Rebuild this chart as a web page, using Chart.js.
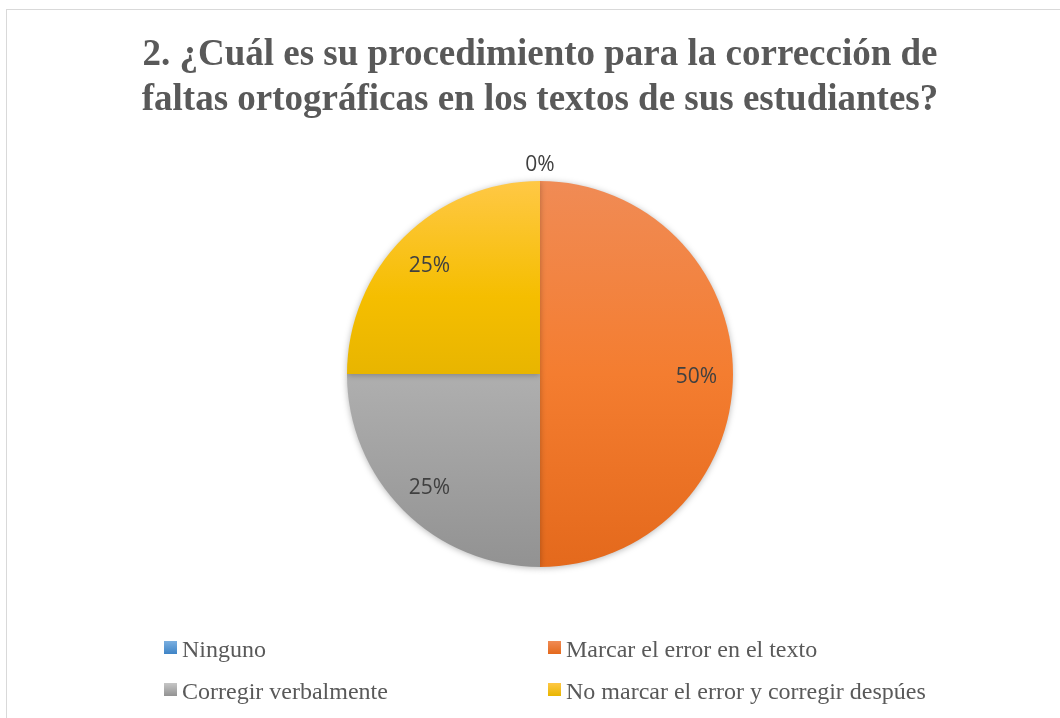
<!DOCTYPE html>
<html>
<head>
<meta charset="utf-8">
<script src="https://cdn.jsdelivr.net/npm/chart.js@4.4.1/dist/chart.umd.min.js"></script>
<style>
  html, body { margin: 0; padding: 0; background: #fff; overflow: hidden; }
  #wrap { position: relative; width: 1060px; height: 718px; }
  #frame { position: absolute; left: 6px; top: 9px; width: 1100px; height: 800px; border: 1.5px solid #d9d9d9; }
  #chart { position: absolute; left: 0; top: 0; }
  .leg { position: absolute; font-family: "Liberation Serif", "Times New Roman", serif; font-size: 24px; color: #595959; white-space: nowrap; line-height: 24px; }
  .leg i { display: inline-block; width: 13px; height: 13px; margin-right: 5px; vertical-align: 3px; }
</style>
</head>
<body>
<div id="wrap">
  <div id="frame"></div>
  <canvas id="chart" width="1060" height="718"></canvas>
  <div id="legend"></div>
</div>
<script>
const titleLines = ["2. ¿Cuál es su procedimiento para la corrección de", "faltas ortográficas en los textos de sus estudiantes?"];
const categories = ["Ninguno", "Marcar el error en el texto", "Corregir verbalmente", "No marcar el error y corregir despúes"];
const percentages = [0, 50, 25, 25];
const legendNames = ["Ninguno", "Marcar el error en el texto", "Corregir verbalmente", "No marcar el error y corregir despúes"];

// top / middle / bottom of each slice colour
const shades = [
  ["#7AAFE0", "#5B9BD5", "#3F84C6"],
  ["#F08B55", "#F47D30", "#E4691C"],
  ["#C6C6C6", "#AFAFAF", "#929292"],
  ["#FFC845", "#F5BE00", "#E8B500"]
];

function sliceColor(ctx) {
  const i = ctx.dataIndex;
  const area = ctx.chart.chartArea;
  if (!area) return shades[i][1];
  const g = ctx.chart.ctx.createLinearGradient(0, area.top, 0, area.bottom);
  g.addColorStop(0, shades[i][0]);
  if (i === 3) {
    g.addColorStop(0.3, shades[i][1]);
    g.addColorStop(0.5, shades[i][2]);
    g.addColorStop(1, shades[i][2]);
  } else {
    g.addColorStop(0.5, shades[i][1]);
    g.addColorStop(1, shades[i][2]);
  }
  return g;
}

// soft shadow behind the pie
const shadowPlugin = {
  id: "pieShadow",
  beforeDatasetsDraw(chart) {
    const c = chart.ctx;
    c.save();
    c.shadowColor = "rgba(0,0,0,0.28)";
    c.shadowBlur = 6;
    c.shadowOffsetY = 1;
  },
  afterDatasetsDraw(chart) {
    chart.ctx.restore();
  }
};

// percent labels on the slices
const labelPlugin = {
  id: "pctLabels",
  afterDatasetsDraw(chart) {
    const c = chart.ctx;
    const meta = chart.getDatasetMeta(0);
    c.save();
    c.font = "21px 'Open Sans'";
    c.fillStyle = "#404040";
    c.textAlign = "center";
    c.textBaseline = "middle";
    meta.data.forEach((arc, i) => {
      const p = arc.getProps(["x", "y", "startAngle", "endAngle", "outerRadius"], true);
      const mid = (p.startAngle + p.endAngle) / 2;
      const dist = percentages[i] === 0 ? p.outerRadius + 19 : p.outerRadius * 0.81;
      c.fillText(percentages[i] + "%", p.x + Math.cos(mid) * dist, p.y + Math.sin(mid) * dist + 3);
    });
    c.restore();
  }
};

new Chart(document.getElementById("chart"), {
  type: "pie",
  data: {
    labels: categories,
    datasets: [{
      data: percentages,
      backgroundColor: sliceColor,
      borderWidth: 0,
      hoverOffset: 0
    }]
  },
  options: {
    responsive: false,
    animation: false,
    layout: { padding: { left: 20, right: 0, top: 0, bottom: 151 } },
    plugins: {
      legend: { display: false },
      tooltip: { enabled: false },
      title: {
        display: true,
        text: titleLines,
        color: "#595959",
        font: { family: "'Liberation Serif', 'Times New Roman', serif", size: 37, weight: "bold", lineHeight: 45 / 37 },
        padding: { top: 33, bottom: 58 }
      }
    }
  },
  plugins: [shadowPlugin, labelPlugin]
});

// two column legend below the pie
const legendPos = [[164, 637], [548, 637], [164, 679], [548, 679]];
const legendEl = document.getElementById("legend");
legendNames.forEach((name, i) => {
  const d = document.createElement("div");
  d.className = "leg";
  d.style.left = legendPos[i][0] + "px";
  d.style.top = legendPos[i][1] + "px";
  const sw = document.createElement("i");
  sw.style.background = "linear-gradient(" + shades[i][0] + "," + shades[i][2] + ")";
  d.appendChild(sw);
  d.appendChild(document.createTextNode(name));
  legendEl.appendChild(d);
});
</script>
</body>
</html>
